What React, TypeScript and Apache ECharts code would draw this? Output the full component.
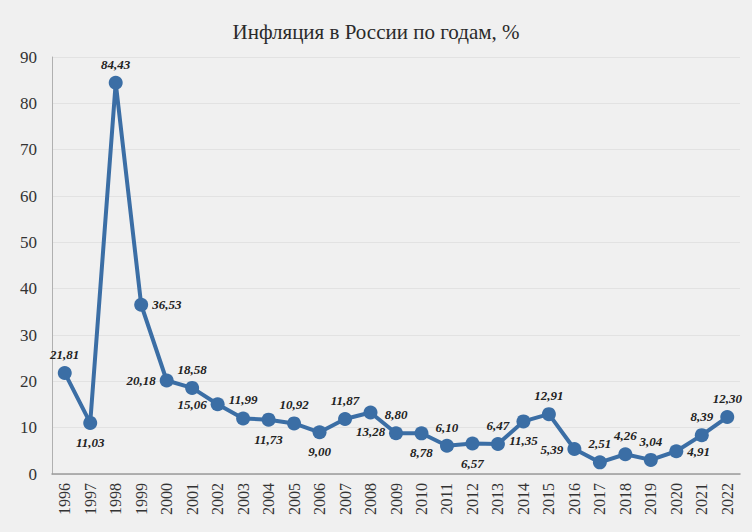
import React, { useEffect, useRef } from "react";
import * as echarts from "echarts";

const years = ["1996","1997","1998","1999","2000","2001","2002","2003","2004","2005","2006","2007","2008","2009","2010","2011","2012","2013","2014","2015","2016","2017","2018","2019","2020","2021","2022"];
const inflation = [21.81, 11.03, 84.43, 36.53, 20.18, 18.58, 15.06, 11.99, 11.73, 10.92, 9.0, 11.87, 13.28, 8.8, 8.78, 6.1, 6.57, 6.47, 11.35, 12.91, 5.39, 2.51, 4.26, 3.04, 4.91, 8.39, 12.3];
const labelPlacement = ["top","bottom","top","right","left","top","left","top","bottom","top","bottom","top","bottom","top","bottom","top","bottom","top","bottom","top","left","top","top","top","right","top","top"];
const yTicks = [0, 10, 20, 30, 40, 50, 60, 70, 80, 90];
const title = "Инфляция в России по годам, %";

const SERIF = "'Liberation Serif', 'DejaVu Serif', serif";

export default function App() {
  const ref = useRef<HTMLDivElement>(null);
  useEffect(() => {
    if (!ref.current) return;
    const chart = echarts.init(ref.current, undefined, { renderer: "svg" });
    const data = inflation.map((v, i) => {
      const pos = labelPlacement[i];
      const offset = pos === "top" ? [0, 2] : pos === "bottom" ? [0, -1] : [0, 0];
      return { value: v, label: { position: pos, offset, distance: pos === "left" || pos === "right" ? 4 : 7 } };
    });
    chart.setOption({
      animation: false,
      backgroundColor: "#f0f0f0",
      title: {
        text: title,
        left: "center",
        top: 16,
        textStyle: { fontFamily: SERIF, fontSize: 21, fontWeight: "normal", color: "#2a2a2a" },
      },
      grid: { left: 52, right: 12, top: 57, bottom: 58, containLabel: false },
      xAxis: {
        type: "category",
        data: years,
        boundaryGap: true,
        axisLine: { lineStyle: { color: "#9a9a9a", width: 1.5 } },
        axisTick: { show: false },
        axisLabel: { rotate: 90, fontFamily: SERIF, fontSize: 16, color: "#333", margin: 9 },
      },
      yAxis: {
        type: "value",
        min: yTicks[0],
        max: yTicks[yTicks.length - 1],
        interval: 10,
        axisLine: { show: true, lineStyle: { color: "#b0b0b0", width: 1 } },
        axisTick: { show: false },
        splitLine: { lineStyle: { color: "#e2e2e2", width: 1 } },
        axisLabel: { fontFamily: SERIF, fontSize: 17, color: "#333", margin: 15 },
      },
      series: [
        {
          type: "line",
          data,
          symbol: "circle",
          symbolSize: 14,
          lineStyle: { color: "#3b6ea5", width: 4 },
          itemStyle: { color: "#3b6ea5" },
          label: {
            show: true,
            fontFamily: SERIF,
            fontStyle: "italic",
            fontWeight: "bold",
            fontSize: 13,
            color: "#222",
            formatter: (p: any) => Number(p.value).toFixed(2).replace(".", ","),
          },
        },
      ],
    });
    return () => chart.dispose();
  }, []);
  return <div ref={ref} style={{ position: "absolute", left: 0, top: 0, width: 752, height: 532 }} />;
}
